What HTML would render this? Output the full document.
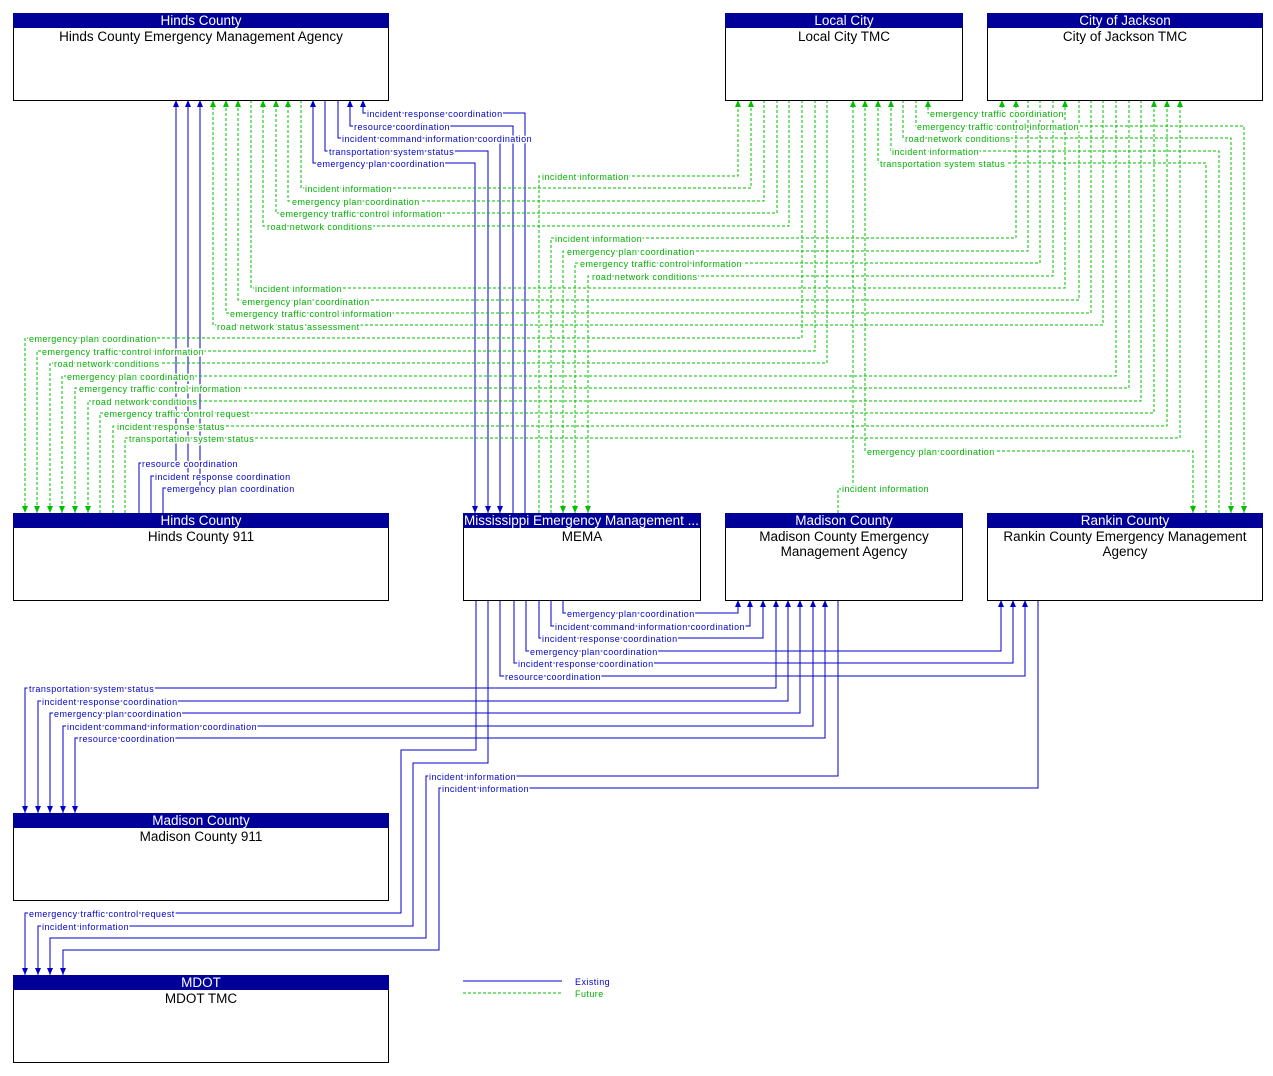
<!DOCTYPE html>
<html><head><meta charset="utf-8"><style>
body{margin:0;background:#fff}
svg{display:block}
.b{stroke:#0000cc;fill:none;stroke-width:1}
.g{stroke:#00c000;fill:none;stroke-width:1;stroke-dasharray:3,2}
text{font-family:"Liberation Sans",sans-serif}
.lb{font-size:9px;letter-spacing:0.45px;fill:#0000cc;stroke:#fff;stroke-width:3px;paint-order:stroke}
.lg{font-size:9px;letter-spacing:0.45px;fill:#00b000;stroke:#fff;stroke-width:3px;paint-order:stroke}
.h{font-size:13.5px;fill:#fff;text-anchor:middle}
.t{font-size:13.5px;fill:#000;text-anchor:middle}
</style></head><body>
<svg width="1273" height="1076" viewBox="0 0 1273 1076" xmlns="http://www.w3.org/2000/svg">
<defs>
<marker id="ab" markerUnits="userSpaceOnUse" markerWidth="8" markerHeight="8" refX="7" refY="4" orient="auto-start-reverse"><path d="M0,1 L7,4 L0,7Z" fill="#0000cc"/></marker>
<marker id="ag" markerUnits="userSpaceOnUse" markerWidth="8" markerHeight="8" refX="7" refY="4" orient="auto-start-reverse"><path d="M0,1 L7,4 L0,7Z" fill="#00c000"/></marker>
</defs>
<g class="b">
<polyline points="525,513 525,113 363,113 363,100" marker-end="url(#ab)"/>
<polyline points="513,513 513,126 350,126 350,100" marker-end="url(#ab)"/>
<polyline points="338,100 338,138 500,138 500,513" marker-end="url(#ab)"/>
<polyline points="325,100 325,151 488,151 488,513" marker-end="url(#ab)"/>
<polyline points="313,100 313,163 475,163 475,513" marker-start="url(#ab)" marker-end="url(#ab)"/>
<polyline points="139,513 139,463 176,463 176,100" marker-end="url(#ab)"/>
<polyline points="151,513 151,476 188,476 188,100" marker-end="url(#ab)"/>
<polyline points="163,513 163,488 200,488 200,100" marker-end="url(#ab)"/>
<polyline points="563,600 563,613 738,613 738,600" marker-end="url(#ab)"/>
<polyline points="551,600 551,626 750,626 750,600" marker-end="url(#ab)"/>
<polyline points="539,600 539,638 763,638 763,600" marker-end="url(#ab)"/>
<polyline points="526,600 526,651 1001,651 1001,600" marker-end="url(#ab)"/>
<polyline points="514,600 514,663 1013,663 1013,600" marker-end="url(#ab)"/>
<polyline points="500,600 500,676 1025,676 1025,600" marker-end="url(#ab)"/>
<polyline points="776,600 776,688 25,688 25,813" marker-start="url(#ab)" marker-end="url(#ab)"/>
<polyline points="788,600 788,701 38,701 38,813" marker-start="url(#ab)" marker-end="url(#ab)"/>
<polyline points="800,600 800,713 50,713 50,813" marker-start="url(#ab)" marker-end="url(#ab)"/>
<polyline points="813,600 813,726 63,726 63,813" marker-start="url(#ab)" marker-end="url(#ab)"/>
<polyline points="825,600 825,738 75,738 75,813" marker-start="url(#ab)" marker-end="url(#ab)"/>
<polyline points="476,600 476,750 401,750 401,913 25,913 25,975" marker-end="url(#ab)"/>
<polyline points="488,600 488,763 413,763 413,926 38,926 38,975" marker-end="url(#ab)"/>
<polyline points="838,600 838,776 426,776 426,938 50,938 50,975" marker-end="url(#ab)"/>
<polyline points="1038,600 1038,788 439,788 439,950 63,950 63,975" marker-end="url(#ab)"/>
<line x1="463" y1="981" x2="562" y2="981"/>
</g>
<g class="g">
<polyline points="301,100 301,188 751,188 751,100" marker-end="url(#ag)"/>
<polyline points="764,100 764,201 288,201 288,100" marker-end="url(#ag)"/>
<polyline points="777,100 777,213 276,213 276,100" marker-end="url(#ag)"/>
<polyline points="789,100 789,226 263,226 263,100" marker-end="url(#ag)"/>
<polyline points="251,100 251,288 1065,288 1065,100" marker-end="url(#ag)"/>
<polyline points="1079,100 1079,300 238,300 238,100" marker-end="url(#ag)"/>
<polyline points="1091,100 1091,313 226,313 226,100" marker-end="url(#ag)"/>
<polyline points="1103,100 1103,325 213,325 213,100" marker-end="url(#ag)"/>
<polyline points="539,513 539,176 738,176 738,100" marker-end="url(#ag)"/>
<polyline points="551,513 551,238 1016,238 1016,100" marker-end="url(#ag)"/>
<polyline points="1028,100 1028,251 563,251 563,513" marker-end="url(#ag)"/>
<polyline points="1040,100 1040,263 575,263 575,513" marker-end="url(#ag)"/>
<polyline points="1053,100 1053,276 588,276 588,513" marker-end="url(#ag)"/>
<polyline points="802,100 802,338 25,338 25,513" marker-end="url(#ag)"/>
<polyline points="815,100 815,351 37,351 37,513" marker-end="url(#ag)"/>
<polyline points="827,100 827,363 50,363 50,513" marker-end="url(#ag)"/>
<polyline points="1116,100 1116,376 62,376 62,513" marker-end="url(#ag)"/>
<polyline points="1129,100 1129,388 75,388 75,513" marker-end="url(#ag)"/>
<polyline points="1141,100 1141,401 88,401 88,513" marker-end="url(#ag)"/>
<polyline points="100,513 100,413 1154,413 1154,100" marker-end="url(#ag)"/>
<polyline points="113,513 113,426 1167,426 1167,100" marker-end="url(#ag)"/>
<polyline points="125,513 125,438 1180,438 1180,100" marker-end="url(#ag)"/>
<polyline points="1002,100 1002,113 928,113 928,100" marker-start="url(#ag)" marker-end="url(#ag)"/>
<polyline points="916,100 916,126 1244,126 1244,513" marker-end="url(#ag)"/>
<polyline points="903,100 903,138 1231,138 1231,513" marker-end="url(#ag)"/>
<polyline points="1219,513 1219,151 891,151 891,100" marker-end="url(#ag)"/>
<polyline points="1206,513 1206,163 878,163 878,100" marker-end="url(#ag)"/>
<polyline points="1193,513 1193,451 865,451 865,100" marker-start="url(#ag)" marker-end="url(#ag)"/>
<polyline points="838,513 838,489 853,489 853,100" marker-end="url(#ag)"/>
<line x1="463" y1="993" x2="562" y2="993"/>
</g>
<g class="lb">
<text x="367" y="117">incident response coordination</text>
<text x="354" y="130">resource coordination</text>
<text x="342" y="142">incident command information coordination</text>
<text x="329" y="155">transportation system status</text>
<text x="317" y="167">emergency plan coordination</text>
<text x="142" y="467">resource coordination</text>
<text x="155" y="480">incident response coordination</text>
<text x="167" y="492">emergency plan coordination</text>
<text x="567" y="617">emergency plan coordination</text>
<text x="555" y="630">incident command information coordination</text>
<text x="542" y="642">incident response coordination</text>
<text x="530" y="655">emergency plan coordination</text>
<text x="518" y="667">incident response coordination</text>
<text x="505" y="680">resource coordination</text>
<text x="29" y="692">transportation system status</text>
<text x="42" y="705">incident response coordination</text>
<text x="54" y="717">emergency plan coordination</text>
<text x="67" y="730">incident command information coordination</text>
<text x="79" y="742">resource coordination</text>
<text x="429" y="780">incident information</text>
<text x="442" y="792">incident information</text>
<text x="29" y="917">emergency traffic control request</text>
<text x="42" y="930">incident information</text>
<text x="575" y="985" stroke-width="0">Existing</text>
</g>
<g class="lg">
<text x="305" y="192">incident information</text>
<text x="292" y="205">emergency plan coordination</text>
<text x="280" y="217">emergency traffic control information</text>
<text x="267" y="230">road network conditions</text>
<text x="542" y="180">incident information</text>
<text x="555" y="242">incident information</text>
<text x="567" y="255">emergency plan coordination</text>
<text x="580" y="267">emergency traffic control information</text>
<text x="592" y="280">road network conditions</text>
<text x="255" y="292">incident information</text>
<text x="242" y="305">emergency plan coordination</text>
<text x="230" y="317">emergency traffic control information</text>
<text x="217" y="330">road network status assessment</text>
<text x="29" y="342">emergency plan coordination</text>
<text x="42" y="355">emergency traffic control information</text>
<text x="54" y="367">road network conditions</text>
<text x="67" y="380">emergency plan coordination</text>
<text x="79" y="392">emergency traffic control information</text>
<text x="92" y="405">road network conditions</text>
<text x="104" y="417">emergency traffic control request</text>
<text x="117" y="430">incident response status</text>
<text x="129" y="442">transportation system status</text>
<text x="930" y="117">emergency traffic coordination</text>
<text x="917" y="130">emergency traffic control information</text>
<text x="905" y="142">road network conditions</text>
<text x="892" y="155">incident information</text>
<text x="880" y="167">transportation system status</text>
<text x="867" y="455">emergency plan coordination</text>
<text x="842" y="492">incident information</text>
<text x="575" y="997" stroke-width="0">Future</text>
</g>
<g stroke="#000" stroke-width="1" fill="#fff">
<rect x="13.5" y="13.5" width="375" height="87"/>
<rect x="725.5" y="13.5" width="237" height="87"/>
<rect x="987.5" y="13.5" width="275" height="87"/>
<rect x="13.5" y="513.5" width="375" height="87"/>
<rect x="463.5" y="513.5" width="237" height="87"/>
<rect x="725.5" y="513.5" width="237" height="87"/>
<rect x="987.5" y="513.5" width="275" height="87"/>
<rect x="13.5" y="813.5" width="375" height="87"/>
<rect x="13.5" y="975.5" width="375" height="87"/>
</g>
<g fill="#000099">
<rect x="13" y="13" width="376" height="15"/>
<rect x="725" y="13" width="238" height="15"/>
<rect x="987" y="13" width="276" height="15"/>
<rect x="13" y="513" width="376" height="15"/>
<rect x="463" y="513" width="238" height="15"/>
<rect x="725" y="513" width="238" height="15"/>
<rect x="987" y="513" width="276" height="15"/>
<rect x="13" y="813" width="376" height="15"/>
<rect x="13" y="975" width="376" height="15"/>
</g>
<g class="h">
<text x="201" y="25">Hinds County</text>
<text x="844" y="25">Local City</text>
<text x="1125" y="25">City of Jackson</text>
<text x="201" y="525">Hinds County</text>
<text x="464" y="525" style="text-anchor:start">Mississippi Emergency Management ...</text>
<text x="844" y="525">Madison County</text>
<text x="1125" y="525">Rankin County</text>
<text x="201" y="825">Madison County</text>
<text x="201" y="987">MDOT</text>
</g>
<g class="t">
<text x="201" y="41">Hinds County Emergency Management Agency</text>
<text x="844" y="41">Local City TMC</text>
<text x="1125" y="41">City of Jackson TMC</text>
<text x="201" y="541">Hinds County 911</text>
<text x="582" y="541">MEMA</text>
<text x="844" y="541">Madison County Emergency</text>
<text x="844" y="556">Management Agency</text>
<text x="1125" y="541">Rankin County Emergency Management</text>
<text x="1125" y="556">Agency</text>
<text x="201" y="841">Madison County 911</text>
<text x="201" y="1003">MDOT TMC</text>
</g>
</svg>
</body></html>
